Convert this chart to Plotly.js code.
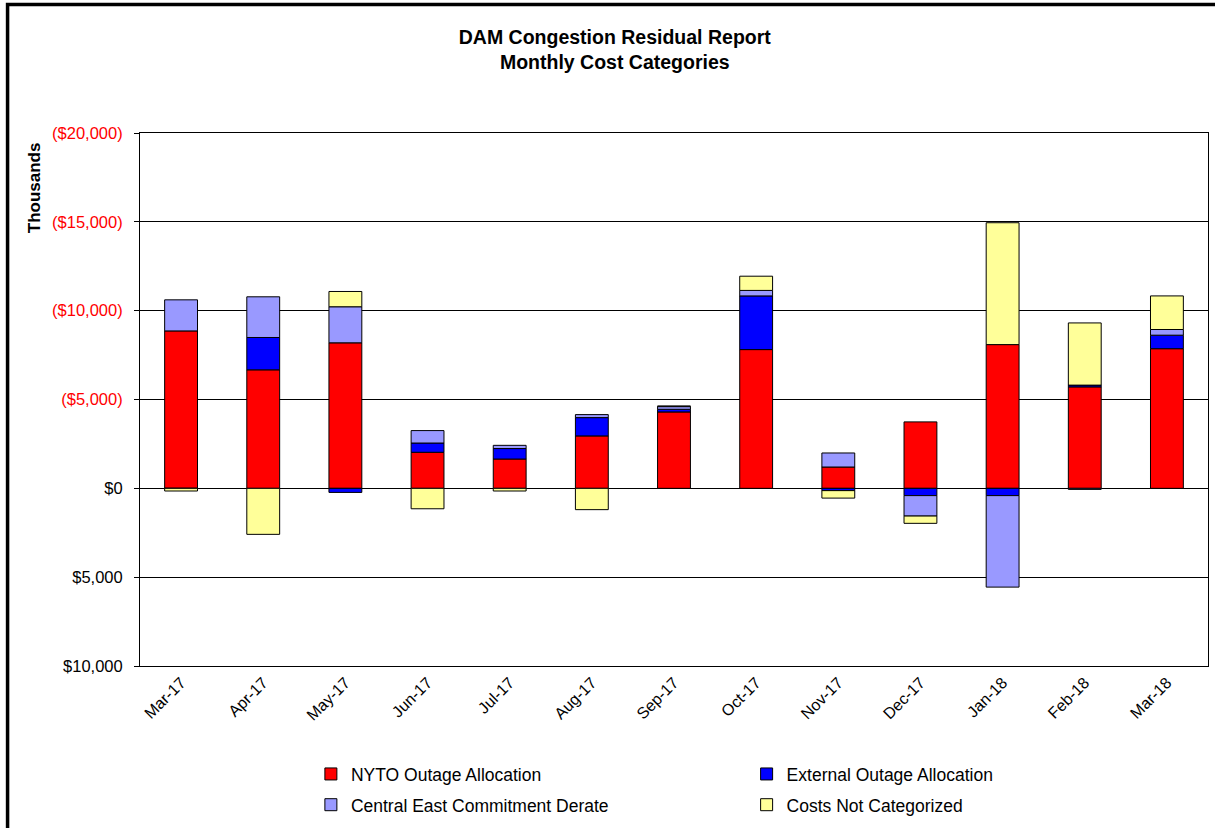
<!DOCTYPE html>
<html>
<head>
<meta charset="utf-8">
<script src="https://cdn.plot.ly/plotly-3.0.1.min.js"></script>
<style>
  html, body { margin: 0; padding: 0; background: #ffffff; }
  #chart { width: 1215px; height: 828px; }
</style>
</head>
<body>
<div id="chart"></div>
<script>
// Months (categories)
const months = ["Mar-17","Apr-17","May-17","Jun-17","Jul-17","Aug-17","Sep-17","Oct-17","Nov-17","Dec-17","Jan-18","Feb-18","Mar-18"];

// Values in $ thousands; negative = cost (drawn upward, shown in parentheses)
const nytoOutage      = [-8860, -6670, -8190, -2030, -1650, -2950, -4300, -7810, -1200, -3740, -8090, -5710, -7860];
const externalOutage  = [    0, -1820,   230,  -520,  -590, -1030,  -150, -3020,   130,   410,   410,  -100,  -760];
const centralEast     = [-1750, -2290, -2030,  -700,  -180,  -170,  -150,  -310,  -790,  1150,  5150,    60,  -320];
const notCategorized  = [  150,  2590,  -860,  1150,   150,  1200,   -40,  -800,   420,   410, -6860, -3500, -1890];

const seriesNames = ["NYTO Outage Allocation", "External Outage Allocation", "Central East Commitment Derate", "Costs Not Categorized"];

// Y tick values and labels
const yTickVals = [-20000, -15000, -10000, -5000, 0, 5000, 10000];
const yTickText = ["($20,000)", "($15,000)", "($10,000)", "($5,000)", "$0", "$5,000", "$10,000"];

const colors = ["#FF0000", "#0000FF", "#9999FF", "#FFFF99"];
const seriesData = [nytoOutage, externalOutage, centralEast, notCategorized];
const legendFor = ["legend", "legend2", "legend", "legend2"];

const traces = seriesData.map((vals, i) => ({
  type: "bar",
  name: seriesNames[i],
  x: months,
  y: vals,
  marker: { color: colors[i], line: { color: "#000000", width: 1 } },
  legend: legendFor[i],
  legendgroup: "g" + i,
  hoverinfo: "none"
}));

const styledTicks = yTickText.map((t, i) =>
  yTickVals[i] < 0 ? '<span style="fill:#FF0000;color:#FF0000">' + t + '</span>' : t);

const FONT = "Liberation Sans, Arial, sans-serif";

const legendBase = {
  y: -0.169, yanchor: "top",
  orientation: "v",
  traceorder: "grouped",
  tracegroupgap: 5,
  font: { family: FONT, size: 17.5, color: "#000000" },
  bgcolor: "rgba(0,0,0,0)",
  borderwidth: 0
};

const layout = {
  width: 1215,
  height: 828,
  margin: { l: 140, r: 7, t: 133, b: 162, autoexpand: false },
  paper_bgcolor: "#FFFFFF",
  plot_bgcolor: "#FFFFFF",
  font: { family: FONT, color: "#000000" },
  barmode: "relative",
  bargap: 0.6,
  title: {
    text: "<b>DAM Congestion Residual Report<br>Monthly Cost Categories</b>",
    font: { family: FONT, size: 19.5, color: "#000000" },
    x: 0.506, xanchor: "center",
    y: 0.947, yanchor: "top"
  },
  xaxis: {
    type: "category",
    range: [-0.5, 12.5],
    automargin: false,
    showgrid: false,
    zeroline: false,
    showline: true,
    mirror: true,
    linecolor: "#000000",
    linewidth: 1,
    ticks: "",
    tickangle: -45,
    tickfont: { family: FONT, size: 16, color: "#000000" }
  },
  xaxis2: {
    overlaying: "x",
    anchor: "free",
    position: 1/3,
    type: "linear",
    range: [-0.5, 12.5],
    tick0: -0.5,
    dtick: 1,
    ticks: "inside",
    ticklen: 5,
    tickcolor: "#000000",
    showticklabels: false,
    showgrid: false,
    zeroline: false,
    showline: false
  },
  yaxis: {
    range: [10000, -20000],
    autorange: false,
    automargin: false,
    tickvals: yTickVals,
    ticktext: styledTicks,
    tickfont: { family: FONT, size: 16.5, color: "#000000" },
    ticks: "outside",
    ticklen: 5,
    tickcolor: "#000000",
    showgrid: true,
    gridcolor: "#000000",
    gridwidth: 1,
    zeroline: false,
    showline: true,
    mirror: true,
    linecolor: "#000000",
    linewidth: 1,
    ticklabelstandoff: 8
  },
  annotations: [{
    text: "<b>Thousands</b>",
    xref: "paper", yref: "paper",
    x: -0.098, y: 0.897,
    xanchor: "center", yanchor: "middle",
    textangle: -90,
    showarrow: false,
    font: { family: FONT, size: 17, color: "#000000" }
  }],
  showlegend: true,
  legend: Object.assign({}, legendBase, { x: 0.16, xanchor: "left" }),
  legend2: Object.assign({}, legendBase, { x: 0.568, xanchor: "left" }),
  shapes: [{
    type: "rect",
    xref: "paper", yref: "paper",
    x0: -0.124, x1: 1.05,
    y0: -0.45, y1: 1.241,
    line: { color: "#000000", width: 3.5 },
    fillcolor: "rgba(0,0,0,0)",
    layer: "below"
  }],
  hovermode: false
};

Plotly.newPlot("chart", traces, layout, { displayModeBar: false, staticPlot: true });
</script>
</body>
</html>
